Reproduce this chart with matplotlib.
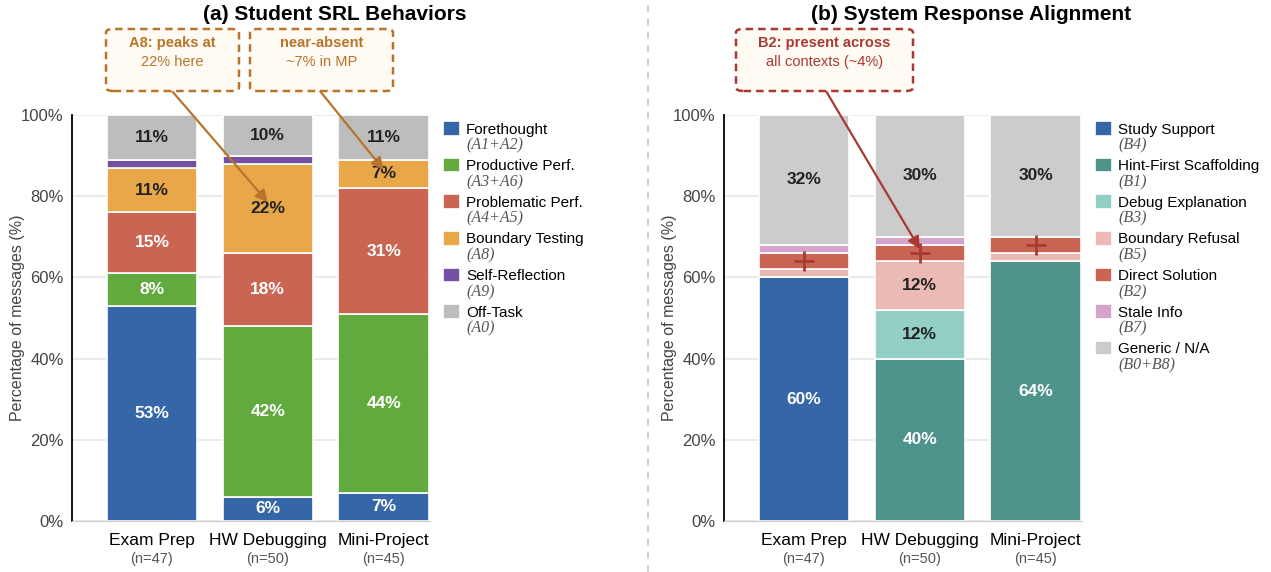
import matplotlib.pyplot as plt
from matplotlib.patches import FancyBboxPatch
from matplotlib.lines import Line2D

plt.rcParams['font.family'] = ['Liberation Sans', 'DejaVu Sans']

W, H = 1271, 572

contexts = ["Exam Prep", "HW Debugging", "Mini-Project"]
n_msgs = [47, 50, 45]

# (a) student SRL behaviours, % of messages
forethought = [53, 6, 7]
productive = [8, 42, 44]
problematic = [15, 18, 31]
boundary_testing = [11, 22, 7]
self_reflection = [2, 2, 0]
off_task = [11, 10, 11]

srl_names = ["Forethought", "Productive Perf.", "Problematic Perf.",
             "Boundary Testing", "Self-Reflection", "Off-Task"]
srl_codes = ["(A1+A2)", "(A3+A6)", "(A4+A5)", "(A8)", "(A9)", "(A0)"]
srl_colors = ["#3566a8", "#63aa3e", "#c96552", "#e8a84a", "#7551a4", "#bdbdbd"]
srl_dark = [False, False, False, True, True, True]

# (b) system response alignment, % of messages
study_support = [60, 0, 0]
hint_first = [0, 40, 64]
debug_expl = [0, 12, 0]
boundary_refusal = [2, 12, 2]
direct_solution = [4, 4, 4]
stale_info = [2, 2, 0]
generic = [32, 30, 30]

resp_names = ["Study Support", "Hint-First Scaffolding", "Debug Explanation",
              "Boundary Refusal", "Direct Solution", "Stale Info", "Generic / N/A"]
resp_codes = ["(B4)", "(B1)", "(B3)", "(B5)", "(B2)", "(B7)", "(B0+B8)"]
resp_colors = ["#3566a8", "#4f948b", "#93cfc4", "#ebbab4", "#c96552", "#d6a4cb", "#cccccc"]
resp_dark = [False, False, True, True, False, True, True]


def draw_panel(ax, series, names, codes, colors, dark):
    x = range(len(contexts))
    bottom = [0] * len(contexts)
    for vals, name, col, dk in zip(series, names, colors, dark):
        ax.bar(x, vals, bottom=bottom, width=0.78, color=col, edgecolor="white",
               linewidth=1.2, label=name, zorder=2)
        for i, v in enumerate(vals):
            if v >= 5:
                ax.text(i, bottom[i] + v / 2, f"{v}%", ha="center", va="center",
                        fontsize=12.5, fontweight="bold",
                        color="#222222" if dk else "white", zorder=3)
        bottom = [b + v for b, v in zip(bottom, vals)]

    ax.set_xlim(-0.69, 2.4)
    ax.set_ylim(0, 100)
    ax.set_yticks([0, 20, 40, 60, 80, 100])
    ax.set_yticklabels([f"{t}%" for t in [0, 20, 40, 60, 80, 100]])
    ax.tick_params(axis="y", length=0, pad=6, labelsize=12, labelcolor="#444444")
    ax.set_xticks(list(x))
    ax.set_xticklabels(contexts)
    ax.tick_params(axis="x", length=0, pad=9, labelsize=12.5)
    for i, n in enumerate(n_msgs):
        ax.annotate(f"(n={n})", xy=(i, 0), xycoords=("data", "axes fraction"),
                    xytext=(0, -27), textcoords="offset points", ha="center",
                    va="center", fontsize=10.5, color="#555555")
    ax.set_ylabel("Percentage of messages (%)", fontsize=11.5, color="#444444")
    ax.yaxis.set_label_coords(-0.13, 0.5)
    ax.grid(axis="y", color="#e6e6e6", linewidth=1.2)
    ax.set_axisbelow(True)
    for s in ["top", "right"]:
        ax.spines[s].set_visible(False)
    ax.spines["bottom"].set_color("#cccccc")
    ax.spines["left"].set_color("black")
    ax.spines["left"].set_linewidth(1.3)

    leg = ax.legend(loc="upper left", bbox_to_anchor=(1.02, 1.0), frameon=False,
                    fontsize=11, handlelength=1.1, handleheight=1.1,
                    handletextpad=0.4, labelspacing=1.38, borderaxespad=0)
    return leg


fig = plt.figure(figsize=(W / 100, H / 100), dpi=100)
ax1 = fig.add_axes([72 / W, 51 / H, 358 / W, 406 / H])
ax2 = fig.add_axes([724 / W, 51 / H, 358 / W, 406 / H])

leg1 = draw_panel(ax1, [forethought, productive, problematic, boundary_testing,
                        self_reflection, off_task],
                  srl_names, srl_codes, srl_colors, srl_dark)
leg2 = draw_panel(ax2, [study_support, hint_first, debug_expl, boundary_refusal,
                        direct_solution, stale_info, generic],
                  resp_names, resp_codes, resp_colors, resp_dark)

# markers on direct-solution segments
ds_base = [a + b + c + d for a, b, c, d in zip(study_support, hint_first, debug_expl, boundary_refusal)]
ds_mid = [b + v / 2 for b, v in zip(ds_base, direct_solution)]
ax2.plot(range(len(contexts)), ds_mid, linestyle="none", marker="+", markersize=15,
         markeredgewidth=2, color="#a83a35", zorder=4)

fig.text(335 / W, 1 - 14 / H, "(a) Student SRL Behaviors", ha="center", va="center",
         fontsize=15, fontweight="bold")
fig.text(971 / W, 1 - 14 / H, "(b) System Response Alignment", ha="center", va="center",
         fontsize=15, fontweight="bold")

fig.add_artist(Line2D([648 / W, 648 / W], [0, 1], transform=fig.transFigure,
                      color="#c8c8c8", linestyle=(0, (4, 4)), linewidth=1.2))


def callout(x0, x1, line1, line2, color, ax, target, start_x):
    box = FancyBboxPatch((x0 / W, 1 - 91 / H), (x1 - x0) / W, 62 / H,
                         boxstyle="round,pad=0,rounding_size=0.006",
                         transform=fig.transFigure, facecolor="#fffaf2",
                         edgecolor=color, linewidth=1.8, linestyle=(0, (3, 2)))
    fig.add_artist(box)
    cx = (x0 + x1) / 2 / W
    fig.text(cx, 1 - 43 / H, line1, ha="center", va="center", fontsize=10.5,
             fontweight="bold", color=color)
    fig.text(cx, 1 - 62 / H, line2, ha="center", va="center", fontsize=10.5,
             color=color)
    ax.annotate("", xy=target, xycoords="data", xytext=(start_x / W, 1 - 91 / H),
                textcoords="figure fraction", annotation_clip=False,
                arrowprops=dict(arrowstyle="-|>", color=color, lw=1.6,
                                mutation_scale=18, shrinkA=0, shrinkB=0), zorder=5)


callout(106, 239, "A8: peaks at", "22% here", "#b8742c", ax1, (1.0, 78.5), 172)
callout(250, 393, "near-absent", "~7% in MP", "#b8742c", ax1, (2.0, 86.5), 320)
callout(736, 913, "B2: present across", "all contexts (~4%)", "#a83a35", ax2, (1.0, 67), 826)

# second-line codes under legend labels
fig.canvas.draw()
renderer = fig.canvas.get_renderer()
for leg, codes in [(leg1, srl_codes), (leg2, resp_codes)]:
    for t, code in zip(leg.get_texts(), codes):
        bb = t.get_window_extent(renderer)
        fig.text(bb.x0 / W, (bb.y0 - 1) / H, code, ha="left", va="top",
                 fontsize=11.5, fontstyle="italic", family="Liberation Serif",
                 color="#555555")

fig.savefig("out.png", dpi=100)
